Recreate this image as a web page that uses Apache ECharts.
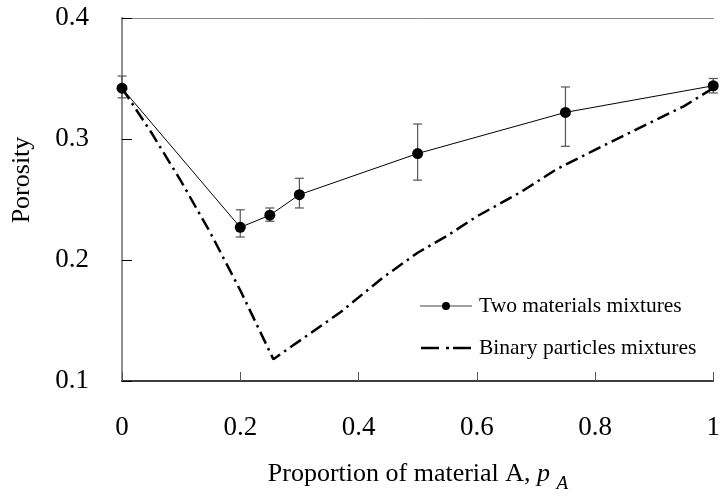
<!DOCTYPE html>
<html>
<head>
<meta charset="utf-8">
<script src="https://cdn.jsdelivr.net/npm/echarts@6/dist/echarts.min.js"></script>
<style>html,body{margin:0;padding:0;background:#fff}#c{width:723px;height:496px}</style>
</head>
<body>
<div id="c"></div>
<script>
// Two materials mixtures (measured)
var twoX = [0, 0.2, 0.25, 0.3, 0.5, 0.75, 1.0];
var twoY = [0.342, 0.227, 0.237, 0.254, 0.288, 0.322, 0.344];
var twoLow = [0.334, 0.219, 0.232, 0.243, 0.266, 0.294, 0.338];
var twoHigh = [0.352, 0.2415, 0.243, 0.2675, 0.3124, 0.343, 0.350];
// Binary particles mixtures (model)
var binX = [0, 0.05, 0.1, 0.15, 0.2, 0.256, 0.278, 0.37, 0.44, 0.5, 0.55, 0.6, 0.674, 0.735, 0.8, 0.866, 0.95, 1.0];
var binY = [0.342, 0.305, 0.265, 0.222, 0.175, 0.118, 0.1256, 0.157, 0.185, 0.206, 0.22, 0.236, 0.256, 0.275, 0.291, 0.307, 0.327, 0.342];
// axis ticks
var xTicks = [0, 0.2, 0.4, 0.6, 0.8, 1];
var yTicks = [0.1, 0.2, 0.3, 0.4];
var legendNames = ['Two materials mixtures', 'Binary particles mixtures'];

var FONT = 'Liberation Serif';
var twoData = twoX.map(function (x, i) { return [x, twoY[i]]; });
var binData = binX.map(function (x, i) { return [x, binY[i]]; });
var errData = twoX.map(function (x, i) { return [x, twoLow[i], twoHigh[i]]; });

// measure title pieces
var ctx = document.createElement('canvas').getContext('2d');
var TF = 26;
ctx.font = TF + 'px "Liberation Serif"';
var w1 = ctx.measureText('Proportion of material A, ').width;
ctx.font = 'italic ' + TF + 'px "Liberation Serif"';
var w2 = ctx.measureText('p ').width;
ctx.font = 'italic 19px "Liberation Serif"';
var w3 = ctx.measureText('A').width;
var titleLeft = 418 - (w1 + w2 + w3) / 2;

var chart = echarts.init(document.getElementById('c'), null, {renderer: 'canvas'});
chart.setOption({
  animation: false,
  backgroundColor: '#fff',
  grid: {left: 122, right: 3, top: 18, bottom: 115, containLabel: false},
  xAxis: [{
    type: 'value', min: 0, max: 1, interval: 0.2,
    axisLine: {lineStyle: {color: '#000', width: 1.5}},
    axisTick: {inside: true, length: 9, lineStyle: {color: '#555'}},
    splitLine: {show: false},
    axisLabel: {margin: 33, color: '#000', fontFamily: FONT, fontSize: 27,
      formatter: function (v) { return xTicks.indexOf(+v.toFixed(1)) >= 0 ? String(+v.toFixed(1)) : ''; }}
  }, {
    type: 'value', min: 0, max: 1, position: 'top',
    axisLine: {show: true, lineStyle: {color: '#888', width: 1}},
    axisTick: {show: false}, axisLabel: {show: false}, splitLine: {show: false}
  }],
  yAxis: [{
    type: 'value', min: 0.1, max: 0.4, interval: 0.1,
    axisLine: {show: true, lineStyle: {color: '#000', width: 1.5}},
    axisTick: {show: true, inside: true, length: 10, lineStyle: {color: '#000'}},
    splitLine: {show: false},
    axisLabel: {margin: 33, color: '#000', fontFamily: FONT, fontSize: 27,
      formatter: function (v) { return yTicks.indexOf(+v.toFixed(1)) >= 0 ? String(+v.toFixed(1)) : ''; }}
  }, {
    type: 'value', min: 0.1, max: 0.4, position: 'right',
    axisLine: {show: true, lineStyle: {color: '#aaa', width: 1.5}},
    axisTick: {show: false}, axisLabel: {show: false}, splitLine: {show: false}
  }],
  series: [{
    name: 'err', type: 'custom', z: 1,
    data: errData,
    renderItem: function (params, api) {
      var x = api.value(0);
      var lo = api.coord([x, api.value(1)]);
      var hi = api.coord([x, api.value(2)]);
      var w = 4.5;
      var st = {stroke: '#555', lineWidth: 1.2};
      return {type: 'group', children: [
        {type: 'line', shape: {x1: lo[0], y1: lo[1], x2: hi[0], y2: hi[1]}, style: st},
        {type: 'line', shape: {x1: lo[0] - w, y1: lo[1], x2: lo[0] + w, y2: lo[1]}, style: st},
        {type: 'line', shape: {x1: hi[0] - w, y1: hi[1], x2: hi[0] + w, y2: hi[1]}, style: st}
      ]};
    }
  }, {
    name: legendNames[1], type: 'line', z: 2,
    data: binData, showSymbol: false, symbol: 'none',
    lineStyle: {color: '#000', width: 2.5, type: [13, 5, 2.5, 5]},
    itemStyle: {color: '#000'}
  }, {
    name: legendNames[0], type: 'line', z: 3,
    data: twoData, symbol: 'circle', symbolSize: 11,
    lineStyle: {color: '#000', width: 1},
    itemStyle: {color: '#000'}
  }],
  graphic: [
    // y-axis title
    {type: 'text', x: 22, y: 180, rotation: Math.PI / 2,
      style: {text: 'Porosity', font: TF + 'px "Liberation Serif"', fill: '#000', align: 'center', verticalAlign: 'middle'}},
    // x-axis title
    {type: 'text', x: titleLeft, y: 474,
      style: {text: 'Proportion of material A, ', font: TF + 'px "Liberation Serif"', fill: '#000', verticalAlign: 'middle'}},
    {type: 'text', x: titleLeft + w1, y: 474,
      style: {text: 'p', font: 'italic ' + TF + 'px "Liberation Serif"', fill: '#000', verticalAlign: 'middle'}},
    {type: 'text', x: titleLeft + w1 + w2, y: 484,
      style: {text: 'A', font: 'italic 19px "Liberation Serif"', fill: '#000', verticalAlign: 'middle'}},
    // legend
    {type: 'line', shape: {x1: 420, y1: 306, x2: 472, y2: 306}, style: {stroke: '#444', lineWidth: 1.2}},
    {type: 'circle', shape: {cx: 446, cy: 306, r: 4}, style: {fill: '#000'}},
    {type: 'text', x: 479, y: 306, style: {text: legendNames[0], font: '21.5px "Liberation Serif"', fill: '#000', verticalAlign: 'middle'}},
    {type: 'line', shape: {x1: 421, y1: 348, x2: 471, y2: 348}, style: {stroke: '#000', lineWidth: 2.5, lineDash: [18, 7, 3, 4]}},
    {type: 'text', x: 479, y: 348, style: {text: legendNames[1], font: '21.5px "Liberation Serif"', fill: '#000', verticalAlign: 'middle'}}
  ]
});
</script>
</body>
</html>
